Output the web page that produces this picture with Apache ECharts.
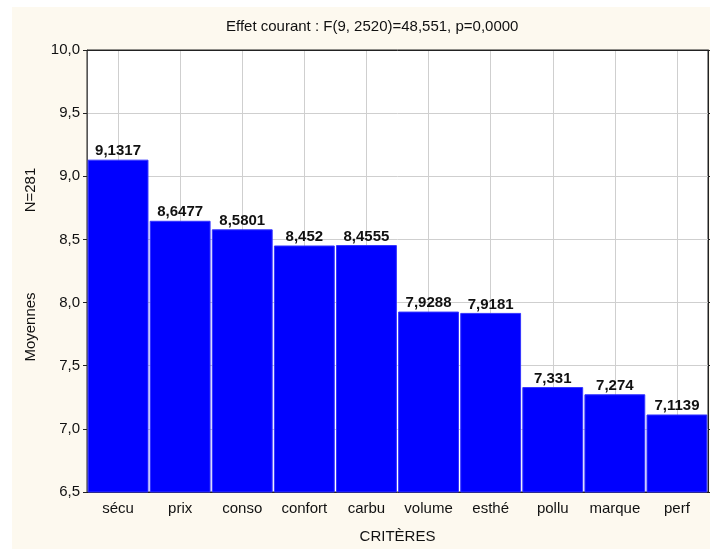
<!DOCTYPE html>
<html>
<head>
<meta charset="utf-8">
<script src="https://cdn.jsdelivr.net/npm/echarts@6/dist/echarts.min.js"></script>
<style>
  html, body { margin: 0; padding: 0; background: #fff; }
  #chart { width: 710px; height: 549px; }
</style>
</head>
<body>
<div id="chart"></div>
<script>
// critères et moyennes
const categories = ["sécu", "prix", "conso", "confort", "carbu", "volume", "esthé", "pollu", "marque", "perf"];
const moyennes = [9.1317, 8.6477, 8.5801, 8.452, 8.4555, 7.9288, 7.9181, 7.331, 7.274, 7.1139];
const yMin = 6.5, yMax = 10, yStep = 0.5;

const FONT = "Liberation Sans";
const FS = 15;
const virgule = (v) => String(v).replace(".", ",");

const chart = echarts.init(document.getElementById("chart"), null, { renderer: "canvas" });

chart.setOption({
  backgroundColor: "#ffffff",
  animation: false,
  textStyle: { fontFamily: FONT },
  title: {
    text: "Effet courant : F(9, 2520)=48,551, p=0,0000",
    left: 221,
    top: 14,
    textStyle: { fontFamily: FONT, fontSize: FS, fontWeight: "normal", color: "#111" },
  },
  graphic: [
    {
      type: "rect", z: -10, silent: true,
      shape: { x: 12, y: 7, width: 698, height: 542 },
      style: { fill: "#fdf9ef" },
    },
    {
      type: "text", x: 31, y: 327, rotation: Math.PI / 2,
      style: { text: "Moyennes", fontFamily: FONT, fontSize: FS, fill: "#111", align: "center", verticalAlign: "middle" },
    },
    {
      type: "text", x: 31, y: 190, rotation: Math.PI / 2,
      style: { text: "N=281", fontFamily: FONT, fontSize: FS, fill: "#111", align: "center", verticalAlign: "middle" },
    },
  ],
  grid: {
    left: 87, right: 2, top: 50, bottom: 57,
    show: true, backgroundColor: "#ffffff", borderColor: "#222", borderWidth: 1,
  },
  xAxis: [
    {
      type: "category",
      data: categories,
      name: "CRITÈRES",
      nameLocation: "middle",
      nameGap: 37,
      nameTextStyle: { fontFamily: FONT, fontSize: FS, color: "#111" },
      axisLine: { lineStyle: { color: "#222" } },
      axisTick: { interval: 0, alignWithLabel: true, inside: true, length: 4, lineStyle: { color: "#222" } },
      axisLabel: { interval: 0, fontFamily: FONT, fontSize: FS, color: "#111", margin: 9 },
      splitLine: { show: true, interval: 0, alignWithLabel: true, lineStyle: { color: "#cfcfcf", width: 1 } },
    },
    {
      type: "category",
      data: categories,
      position: "top",
      axisLine: { lineStyle: { color: "#222" } },
      axisTick: { interval: 0, alignWithLabel: true, inside: true, length: 4, lineStyle: { color: "#222" } },
      axisLabel: { show: false },
      splitLine: { show: false },
    },
  ],
  yAxis: [
    {
      type: "value",
      min: yMin, max: yMax, interval: yStep,
      axisLine: { show: true, lineStyle: { color: "#555" } },
      axisTick: { show: true, length: 4, lineStyle: { color: "#222" } },
      axisLabel: {
        fontFamily: FONT, fontSize: FS, color: "#111", margin: 7,
        formatter: (v) => v.toFixed(1).replace(".", ","),
      },
      splitLine: { show: true, lineStyle: { color: "#cfcfcf", width: 1 } },
    },
    {
      type: "value",
      position: "right",
      min: yMin, max: yMax, interval: yStep,
      axisLine: { show: true, lineStyle: { color: "#222" } },
      axisTick: { show: true, length: 3, lineStyle: { color: "#222" } },
      axisLabel: { show: false },
      splitLine: { show: false },
    },
  ],
  series: [
    {
      type: "bar",
      data: moyennes,
      barCategoryGap: "2%",
      itemStyle: { color: "#0000ff", borderColor: "#3535ff", borderWidth: 1 },
      label: {
        show: true,
        position: "top",
        distance: 1,
        fontFamily: FONT,
        fontSize: FS,
        fontWeight: "bold",
        color: "#111",
        formatter: (p) => virgule(p.value),
      },
    },
  ],
});
</script>
</body>
</html>
